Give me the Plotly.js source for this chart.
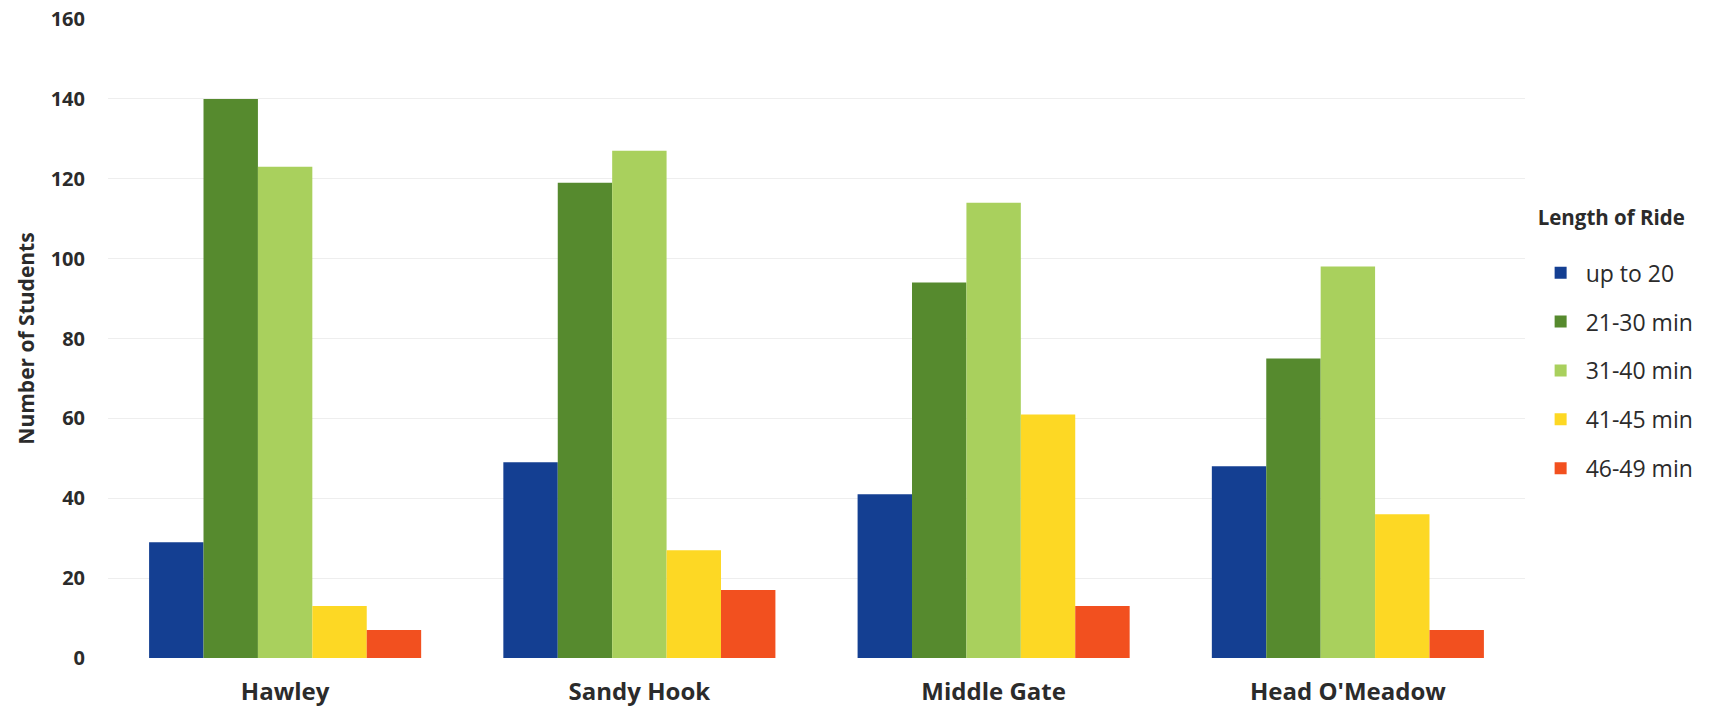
<!DOCTYPE html>
<html>
<head>
<meta charset="utf-8">
<script src="https://cdn.plot.ly/plotly-3.0.1.min.js"></script>
<style>html,body{margin:0;padding:0;background:#fff;}#chart{width:1720px;height:715px;}</style>
</head>
<body>
<div id="chart"></div>
<script>
const schools = ["Hawley", "Sandy Hook", "Middle Gate", "Head O'Meadow"];
const seriesNames = ["up to 20", "21-30 min", "31-40 min", "41-45 min", "46-49 min"];
const upTo20 = [29, 49, 41, 48];
const min21to30 = [140, 119, 94, 75];
const min31to40 = [123, 127, 114, 98];
const min41to45 = [13, 27, 61, 36];
const min46to49 = [7, 17, 13, 7];
const yTicks = [0, 20, 40, 60, 80, 100, 120, 140, 160];

const seriesValues = [upTo20, min21to30, min31to40, min41to45, min46to49];
const colors = ["#143f92", "#568a2e", "#a9d05d", "#fdd824", "#f2501f"];

const traces = seriesValues.map((vals, i) => ({
  type: "bar",
  name: seriesNames[i],
  x: schools,
  y: vals,
  marker: {color: colors[i], line: {width: 0}},
  legendgroup: "g" + i,
  hoverinfo: "x+y+name"
}));

const layout = {
  width: 1720,
  height: 715,
  margin: {l: 108, r: 195, t: 19, b: 57},
  paper_bgcolor: "#ffffff",
  plot_bgcolor: "#ffffff",
  barmode: "group",
  bargap: 0.232,
  bargroupgap: 0,
  showlegend: true,
  legend: {
    x: 1.0075, xanchor: "left",
    y: 0.72, yanchor: "top",
    title: {text: "<b>Length of Ride</b><br> ", side: "top", font: {family: "Open Sans", size: 20.5, color: "#2b2b2b"}},
    font: {family: "Open Sans", size: 23, color: "#2b2b2b"},
    itemwidth: 40,
    tracegroupgap: 16,
    traceorder: "grouped",
    bgcolor: "rgba(0,0,0,0)"
  },
  xaxis: {
    type: "category",
    tickfont: {family: "Open Sans", size: 24, color: "#2b2b2b", weight: "bold"},
    showgrid: false,
    zeroline: false,
    showline: false,
    ticks: "",
    ticklabelstandoff: 17
  },
  yaxis: {
    range: [0, 160],
    tickvals: yTicks,
    ticktext: yTicks.map(String),
    tickfont: {family: "Open Sans", size: 20, color: "#2b2b2b", weight: "bold"},
    showgrid: true,
    gridcolor: "#eeeeee",
    gridwidth: 1,
    zeroline: false,
    showline: false,
    ticks: "",
    ticklabelstandoff: 22,
    title: {text: "<b>Number of Students</b>", font: {family: "Open Sans", size: 21, color: "#2b2b2b"}, standoff: 10}
  }
};

Plotly.newPlot("chart", traces, layout, {displayModeBar: false, responsive: false});
</script>
</body>
</html>
